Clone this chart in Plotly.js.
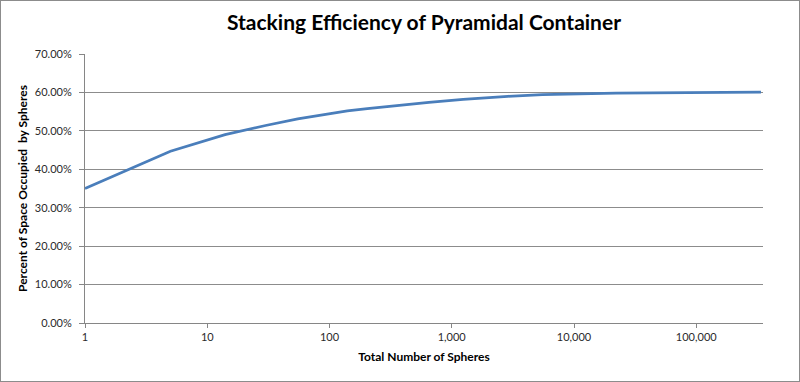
<!DOCTYPE html>
<html>
<head>
<meta charset="utf-8">
<script src="https://cdn.plot.ly/plotly-3.0.1.min.js"></script>
<style>
  html, body { margin: 0; padding: 0; background: #fff; }
  #wrap { position: relative; width: 800px; height: 382px; }
  #chart { width: 800px; height: 382px; }
  #frame { position: absolute; left: 0; top: 0; width: 798px; height: 380px;
           border: 1px solid #8c8c8c; pointer-events: none; }
</style>
</head>
<body>
<div id="wrap"><div id="chart"></div><div id="frame"></div></div>
<script>
// Total number of spheres (square pyramidal numbers for selected layer counts)
const totalSpheres = [1, 5, 14, 30, 55, 91, 140, 204, 285, 385, 650, 1240, 2870, 5525,
                      9455, 22140, 42925, 73810, 116795, 173880, 247065, 338350];
// Fraction of space occupied by spheres
const efficiency = [0.350, 0.447, 0.490, 0.514, 0.531, 0.543, 0.552, 0.558, 0.563, 0.567,
                    0.574, 0.582, 0.590, 0.594, 0.596, 0.598, 0.599, 0.600, 0.600, 0.6005,
                    0.601, 0.601];
const xTickVals = [1, 10, 100, 1000, 10000, 100000];
const xTickText = ["1", "10", "100", "1,000", "10,000", "100,000"];
const yTickVals = [0, 0.1, 0.2, 0.3, 0.4, 0.5, 0.6, 0.7];

const trace = {
  x: totalSpheres,
  y: efficiency,
  type: 'scatter',
  mode: 'lines',
  line: { color: '#4a7ebb', width: 2.75 },
  hoverinfo: 'x+y'
};

const layout = {
  width: 800,
  height: 382,
  margin: { l: 85, r: 37, t: 54, b: 59 },
  paper_bgcolor: '#ffffff',
  plot_bgcolor: '#ffffff',
  showlegend: false,
  font: { family: 'Lato, "Open Sans", sans-serif', color: '#2b2b2b', size: 11 },
  title: {
    text: '<b>Stacking Efficiency of Pyramidal Container</b>',
    font: { family: 'Lato, sans-serif', size: 21, color: '#000000' },
    x: 0.5, xanchor: 'center', xref: 'paper',
    y: 0.94, yanchor: 'middle', yref: 'container'
  },
  xaxis: {
    type: 'log',
    range: [0, 5.546],
    tickvals: xTickVals,
    ticktext: xTickText,
    showgrid: false,
    zeroline: false,
    showline: true,
    linecolor: '#868686',
    linewidth: 1,
    ticks: 'outside',
    ticklen: 4,
    tickcolor: '#868686',
    tickfont: { size: 11, color: '#2b2b2b' },
    title: {
      text: '<b>Total Number of Spheres</b>',
      font: { family: 'Lato, sans-serif', size: 12, color: '#000000' },
      standoff: 10
    }
  },
  yaxis: {
    range: [0, 0.7],
    tickvals: yTickVals,
    tickformat: '.2%',
    showgrid: true,
    gridcolor: '#8c8c8c',
    gridwidth: 1,
    zeroline: false,
    showline: true,
    linecolor: '#868686',
    linewidth: 1,
    ticks: 'outside',
    ticklen: 5,
    tickcolor: '#868686',
    tickfont: { size: 11, color: '#2b2b2b' },
    ticklabelstandoff: 5,
    title: {
      text: '<b>Percent of Space Occupied  by Spheres</b>',
      font: { family: 'Lato, sans-serif', size: 12, color: '#000000' },
      standoff: 4
    }
  }
};

Plotly.newPlot('chart', [trace], layout, { displayModeBar: false, staticPlot: true });
</script>
</body>
</html>
